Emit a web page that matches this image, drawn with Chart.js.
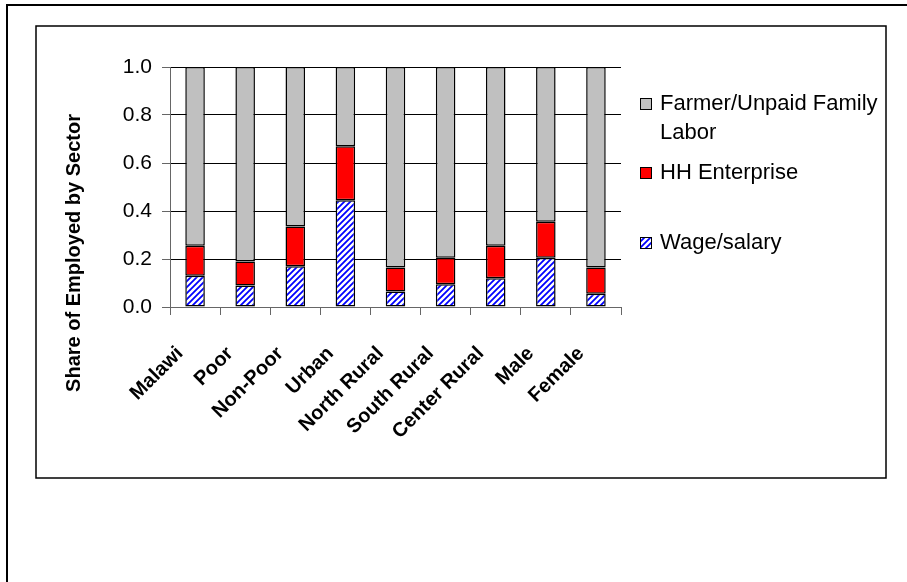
<!DOCTYPE html>
<html>
<head>
<meta charset="utf-8">
<script src="https://cdn.jsdelivr.net/npm/chart.js@4/dist/chart.umd.min.js"></script>
<style>
  html, body { margin: 0; padding: 0; background: #fff; }
  canvas { display: block; }
</style>
</head>
<body>
<canvas id="c" width="907" height="582"></canvas>
<script>
// Employment shares by sector, per group
const categories = ['Malawi', 'Poor', 'Non-Poor', 'Urban', 'North Rural', 'South Rural', 'Center Rural', 'Male', 'Female'];
const wageSalary   = [0.13, 0.09, 0.17, 0.445, 0.065, 0.095, 0.12, 0.205, 0.055];
const hhEnterprise = [0.125, 0.10, 0.165, 0.225, 0.10, 0.11, 0.135, 0.15, 0.11];
const farmerUnpaid = [0.745, 0.81, 0.665, 0.33, 0.835, 0.795, 0.745, 0.645, 0.835];
const yTicks = [0, 0.2, 0.4, 0.6, 0.8, 1.0];
const seriesNames = ['Wage/salary', 'HH Enterprise', 'Farmer/Unpaid Family Labor'];
const yTitle = 'Share of Employed by Sector';

const FONT = '"Liberation Sans", Arial, sans-serif';

const ctx0 = document.getElementById('c').getContext('2d');

// Blue diagonal hatch for the wage/salary segments
const hatch = ctx0.createPattern((() => {
  const s = 6;
  const pc = document.createElement('canvas');
  pc.width = s; pc.height = s;
  const g = pc.getContext('2d');
  g.fillStyle = '#ffffff';
  g.fillRect(0, 0, s, s);
  g.strokeStyle = '#0000ff';
  g.lineWidth = 1.8;
  g.beginPath();
  g.moveTo(-1, s + 1); g.lineTo(s + 1, -1);
  g.moveTo(-1, 1); g.lineTo(1, -1);
  g.moveTo(s - 1, s + 1); g.lineTo(s + 1, s - 1);
  g.stroke();
  return pc;
})(), 'repeat');

const colors = [hatch, '#ff0000', '#c0c0c0'];

// Frames, rotated axis title, category label placement and the legend on the right
const decorations = {
  id: 'decorations',
  beforeDraw(chart) {
    const c = chart.ctx;
    c.save();
    c.fillStyle = '#fff';
    c.fillRect(0, 0, chart.width, chart.height);
    c.strokeStyle = '#000';
    c.lineWidth = 2;
    c.strokeRect(7, 5, 920, 600);
    c.lineWidth = 1.5;
    c.strokeRect(36, 26, 850, 452);
    c.restore();

    // slant the category labels so they end just left of each bar
    const xs = chart.scales.x;
    xs.getLabelItems(chart.chartArea).forEach(it => {
      it.options.translation[0] -= 15;
      it.options.translation[1] -= 3;
    });
  },
  afterDraw(chart) {
    const c = chart.ctx;
    c.save();
    // y axis title
    c.translate(74, 253);
    c.rotate(-Math.PI / 2);
    c.font = 'bold 20px ' + FONT;
    c.fillStyle = '#000';
    c.textAlign = 'center';
    c.textBaseline = 'middle';
    c.fillText(yTitle, 0, 0);
    c.restore();

    // legend
    c.save();
    c.font = '22px ' + FONT;
    c.textBaseline = 'middle';
    c.textAlign = 'left';
    const items = [
      { fill: colors[2], lines: ['Farmer/Unpaid Family', 'Labor'], y: 104 },
      { fill: colors[1], lines: [seriesNames[1]], y: 173 },
      { fill: colors[0], lines: [seriesNames[0]], y: 243 }
    ];
    items.forEach(it => {
      c.fillStyle = it.fill;
      c.fillRect(640, it.y - 6, 11, 11);
      c.strokeStyle = '#000';
      c.lineWidth = 1;
      c.strokeRect(640.5, it.y - 5.5, 11, 11);
      c.fillStyle = '#000';
      it.lines.forEach((t, i) => c.fillText(t, 660, it.y + i * 29));
    });
    c.restore();
  }
};

new Chart(ctx0, {
  type: 'bar',
  data: {
    labels: categories,
    datasets: [
      { label: seriesNames[0], data: wageSalary, backgroundColor: colors[0] },
      { label: seriesNames[1], data: hhEnterprise, backgroundColor: colors[1] },
      { label: seriesNames[2], data: farmerUnpaid, backgroundColor: colors[2] }
    ].map(d => Object.assign(d, {
      borderColor: '#000',
      borderWidth: 1.5,
      borderSkipped: false,
      categoryPercentage: 1,
      barPercentage: 0.39
    }))
  },
  options: {
    responsive: false,
    animation: false,
    devicePixelRatio: 1,
    layout: { padding: { left: 110, top: 67, right: 286, bottom: 125 } },
    plugins: { legend: { display: false }, tooltip: { enabled: false } },
    scales: {
      x: {
        stacked: true,
        grid: { drawOnChartArea: false, drawTicks: true, tickLength: 8, color: '#666', tickColor: '#666', offset: true },
        border: { color: '#666', width: 1 },
        ticks: {
          minRotation: 45, maxRotation: 45, autoSkip: false,
          padding: 30,
          color: '#000',
          font: { family: FONT, size: 20, weight: 'bold' }
        },
        afterFit(scale) { scale.height = 150; }
      },
      y: {
        stacked: true,
        min: 0, max: 1,
        afterBuildTicks(scale) { scale.ticks = yTicks.map(v => ({ value: v })); },
        grid: { color: '#000', tickColor: '#666', tickLength: 8, lineWidth: 1 },
        border: { color: '#666', width: 1 },
        ticks: {
          padding: 10,
          color: '#000',
          font: { family: FONT, size: 21 },
          callback: v => Number(v).toFixed(1)
        },
        afterFit(scale) { scale.width = 60; }
      }
    }
  },
  plugins: [decorations]
});
</script>
</body>
</html>
